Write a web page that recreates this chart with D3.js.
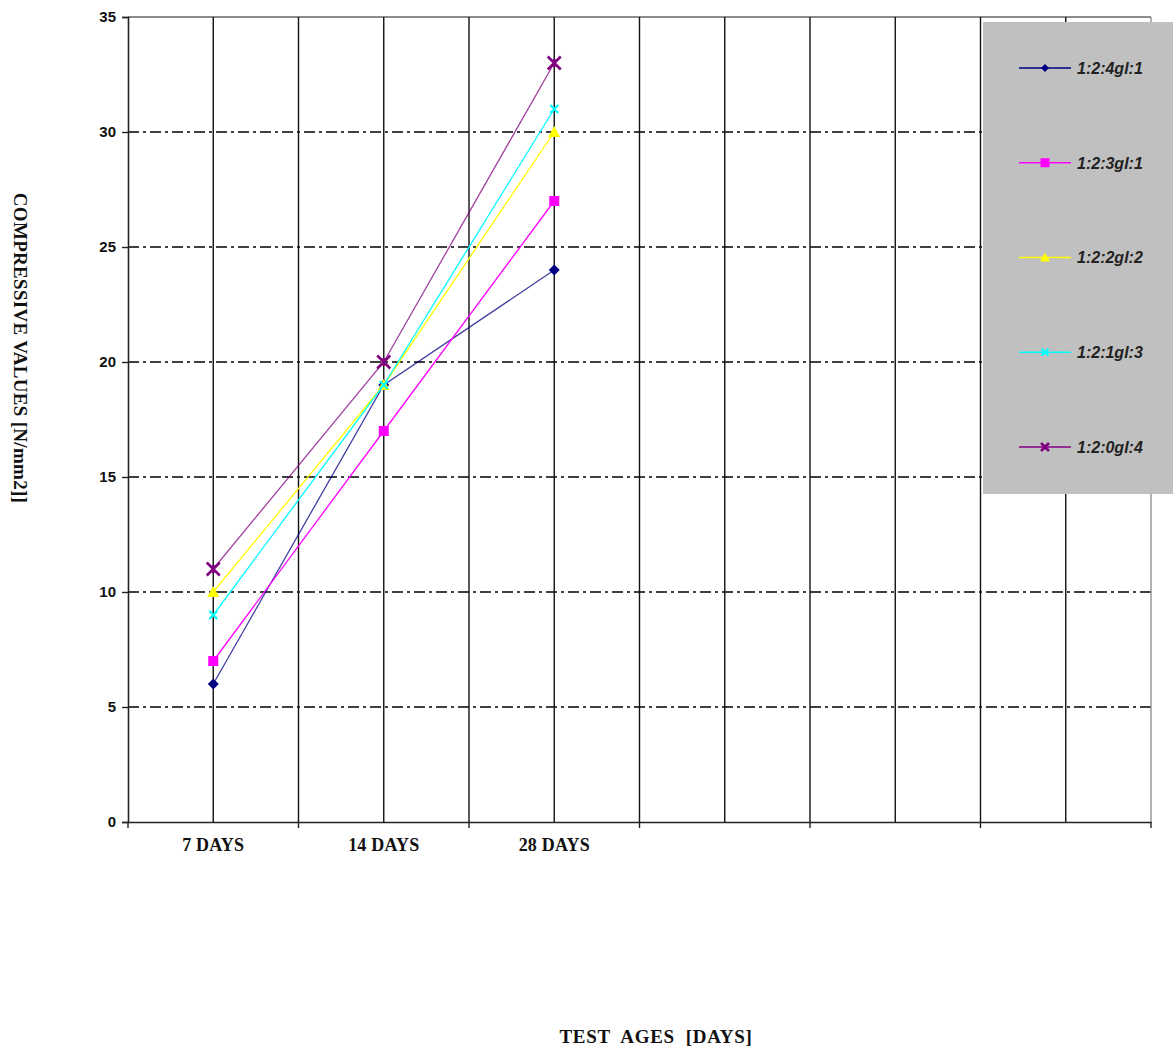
<!DOCTYPE html>
<html><head><meta charset="utf-8">
<script src="https://cdn.jsdelivr.net/npm/d3@7"></script>
<style>body{margin:0;background:#fff}</style>
</head><body>
<svg id="chart" width="1173" height="1048"></svg>
<script>
const categories = ["7 DAYS", "14 DAYS", "28 DAYS"];
const slotCount = 6;
const seriesNames = ["1:2:4gl:1", "1:2:3gl:1", "1:2:2gl:2", "1:2:1gl:3", "1:2:0gl:4"];
const s1 = [6, 19, 24];
const s2 = [7, 17, 27];
const s3 = [10, 19, 30];
const s4 = [9, 19, 31];
const s5 = [11, 20, 33];
const yTicks = [0, 5, 10, 15, 20, 25, 30, 35];
const colors = ["#000080", "#FF00FF", "#FFFF00", "#00FFFF", "#800080"];
const markers = ["diamond", "square", "triangle", "x", "star"];
const seriesValues = [s1, s2, s3, s4, s5];

const svg = d3.select("#chart");
const L = 128, R = 1151, T = 17, B = 822;
const x = d3.scaleBand().domain(d3.range(slotCount)).range([L, R]).paddingInner(0).paddingOuter(0);
const y = d3.scaleLinear().domain([0, 35]).range([B, T]);

// horizontal dash-dot gridlines
svg.append("g").selectAll("line").data(yTicks.filter(v => v > 0 && v < 35)).join("line")
  .attr("x1", L).attr("x2", R).attr("y1", d => y(d)).attr("y2", d => y(d))
  .attr("stroke", "#000").attr("stroke-width", 1.6).attr("stroke-dasharray", "11,4,3,4");
// top border
svg.append("line").attr("x1", L).attr("x2", R).attr("y1", y(35)).attr("y2", y(35))
  .attr("stroke", "#666").attr("stroke-width", 1.4);

// vertical gridlines at band centers and boundaries
const vLines = [];
d3.range(slotCount).forEach(i => { vLines.push(x(i) + x.bandwidth() / 2); if (i > 0) vLines.push(x(i)); });
svg.append("g").selectAll("line").data(vLines).join("line")
  .attr("x1", d => d).attr("x2", d => d).attr("y1", T).attr("y2", B)
  .attr("stroke", "#111").attr("stroke-width", 1.4);
svg.append("line").attr("x1", R).attr("x2", R).attr("y1", T).attr("y2", B)
  .attr("stroke", "#888").attr("stroke-width", 1.3);

// y axis
const yAxis = svg.append("g").attr("transform", `translate(${L},0)`)
  .call(d3.axisLeft(y).tickValues(yTicks).tickSize(6).tickPadding(6));
yAxis.select(".domain").attr("stroke", "#222").attr("stroke-width", 1.6);
yAxis.selectAll(".tick line").attr("stroke", "#222").attr("stroke-width", 1.4);
yAxis.selectAll("text").attr("font-family", "Liberation Sans, Arial, sans-serif")
  .attr("font-weight", "bold").attr("font-size", 15).attr("fill", "#111");

// x axis
const xAxis = svg.append("g").attr("transform", `translate(0,${B})`)
  .call(d3.axisBottom(x).tickSize(0).tickPadding(16).tickFormat(i => categories[i] || ""));
xAxis.select(".domain").attr("stroke", "#222").attr("stroke-width", 1.6);
xAxis.selectAll("text").attr("font-family", "Liberation Serif, Times New Roman, serif")
  .attr("font-weight", "bold").attr("font-size", 18).attr("fill", "#111").attr("letter-spacing", 0.2);
// boundary ticks
const bTicks = d3.range(slotCount).map(i => x(i)).concat([R]);
svg.append("g").selectAll("line").data(bTicks).join("line")
  .attr("x1", d => d).attr("x2", d => d).attr("y1", B).attr("y2", B + 6)
  .attr("stroke", "#222").attr("stroke-width", 1.4);

// series
function drawMarker(g, type, color, size) {
  const s = size;
  if (type === "diamond") g.append("path").attr("d", `M0,${-s}L${s},0L0,${s}L${-s},0Z`).attr("fill", color);
  else if (type === "square") g.append("rect").attr("x", -s).attr("y", -s).attr("width", 2 * s).attr("height", 2 * s).attr("fill", color);
  else if (type === "triangle") g.append("path").attr("d", `M0,${-s * 1.1}L${s * 1.1},${s * 0.9}L${-s * 1.1},${s * 0.9}Z`).attr("fill", color);
  else if (type === "x") g.append("path").attr("d", `M${-s},${-s}L${s},${s}M${-s},${s}L${s},${-s}`).attr("stroke", color).attr("stroke-width", 2.2);
  else if (type === "star") g.append("path").attr("d", `M${-s},${-s}L${s},${s}M${-s},${s}L${s},${-s}M0,${-s * 0.6}L0,${s * 0.6}`).attr("stroke", color).attr("stroke-width", 2.6);
}
const cx = i => x(i) + x.bandwidth() / 2;
const line = d3.line().x((d, i) => cx(i)).y(d => y(d));
const markerSizes = [5.5, 5, 5.5, 4, 6.5];
seriesValues.forEach((vals, k) => {
  svg.append("path").datum(vals).attr("d", line).attr("fill", "none")
    .attr("stroke", colors[k]).attr("stroke-width", 1.3).attr("opacity", k === 0 || k === 4 ? 0.75 : 1);
  vals.forEach((v, i) => {
    const g = svg.append("g").attr("transform", `translate(${cx(i)},${y(v)})`);
    drawMarker(g, markers[k], colors[k], markerSizes[k]);
  });
});

// legend
const lg = svg.append("g");
lg.append("rect").attr("x", 983).attr("y", 22).attr("width", 190).attr("height", 472).attr("fill", "#C0C0C0");
const legY = d3.scalePoint().domain(seriesNames).range([68, 447]);
const legendMarkerSizes = [4, 4.5, 4.5, 3.5, 4];
seriesNames.forEach((name, k) => {
  const yy = legY(name);
  lg.append("line").attr("x1", 1019).attr("x2", 1071).attr("y1", yy).attr("y2", yy)
    .attr("stroke", colors[k]).attr("stroke-width", 1.4);
  const g = lg.append("g").attr("transform", `translate(1045,${yy})`);
  drawMarker(g, markers[k], colors[k], legendMarkerSizes[k]);
  lg.append("text").attr("x", 1077).attr("y", yy).attr("dy", "0.36em")
    .attr("font-family", "Liberation Sans, Arial, sans-serif").attr("font-weight", "bold")
    .attr("font-style", "italic").attr("font-size", 16).attr("fill", "#222").text(name);
});

// axis titles
svg.append("text").attr("transform", "translate(14,348) rotate(90)").attr("text-anchor", "middle")
  .attr("font-family", "Liberation Serif, Times New Roman, serif").attr("font-weight", "bold")
  .attr("font-size", 19).attr("letter-spacing", 0.3).attr("fill", "#111").text("COMPRESSIVE VALUES [N/mm2]]");
svg.append("text").attr("x", 656).attr("y", 1043).attr("text-anchor", "middle")
  .attr("font-family", "Liberation Serif, Times New Roman, serif").attr("font-weight", "bold")
  .attr("font-size", 19).attr("letter-spacing", 0.7).attr("fill", "#111").attr("xml:space", "preserve").style("white-space", "pre")
  .text("TEST  AGES  [DAYS]");
</script>
</body></html>
